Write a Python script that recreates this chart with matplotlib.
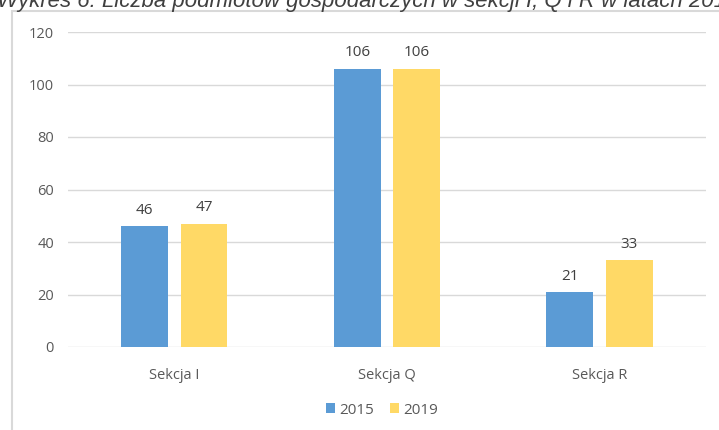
import numpy as np
import matplotlib.pyplot as plt
from matplotlib.patches import Rectangle

categories = ['Sekcja I', 'Sekcja Q', 'Sekcja R']
years = ['2015', '2019']
values_2015 = [46, 106, 21]
values_2019 = [47, 106, 33]
colors = ['#5B9BD5', '#FFD966']
title = 'Wykres 6. Liczba podmiotów gospodarczych w sekcji I, Q i R w latach 2015 i 2019'

plt.rcParams['font.family'] = ['Open Sans', 'DejaVu Sans']

fig = plt.figure(figsize=(7.19, 4.30), dpi=100)
W, H = 719, 430

# frame of the chart box (cut off at right and bottom)
fig.patches.append(Rectangle((12 / W, -0.05), 1.0, 1 - 11 / H + 0.05,
                             transform=fig.transFigure, fill=False,
                             edgecolor='#D9D9D9', linewidth=1.5))

# title, partly cut off at the top edge as in the source
fig.text(-3 / W, 1 - 7 / H, title, fontsize=16, style='italic',
         color='#404040', family=['Liberation Sans', 'DejaVu Sans'],
         ha='left', va='baseline')

ax = fig.add_axes([68 / W, 1 - 347 / H, (706 - 68) / W, (347 - 32) / H])
x = np.arange(len(categories))
w = 0.22
off = 0.14
b1 = ax.bar(x - off, values_2015, w, color=colors[0], label=years[0])
b2 = ax.bar(x + off, values_2019, w, color=colors[1], label=years[1])
for bars in (b1, b2):
    ax.bar_label(bars, padding=6, fontsize=11, color='#404040')

ax.set_xlim(-0.5, 2.5)
ax.set_ylim(0, 120)
ax.set_yticks(range(0, 121, 20))
ax.set_xticks(x)
ax.set_xticklabels(categories)
ax.tick_params(axis='both', length=0, labelsize=10.5, labelcolor='#595959')
ax.tick_params(axis='y', pad=10)
ax.tick_params(axis='x', pad=15)
ax.grid(axis='y', color='#D9D9D9', linewidth=1)
ax.set_axisbelow(True)
for s in ax.spines.values():
    s.set_visible(False)

ax.legend(loc='center', bbox_to_anchor=(382 / W, 1 - 410 / H),
          bbox_transform=fig.transFigure, ncol=2, frameon=False,
          fontsize=11, labelcolor='#595959', handlelength=0.6,
          handleheight=0.6, handletextpad=0.3, columnspacing=1.0)

fig.savefig('out.png', dpi=100)
